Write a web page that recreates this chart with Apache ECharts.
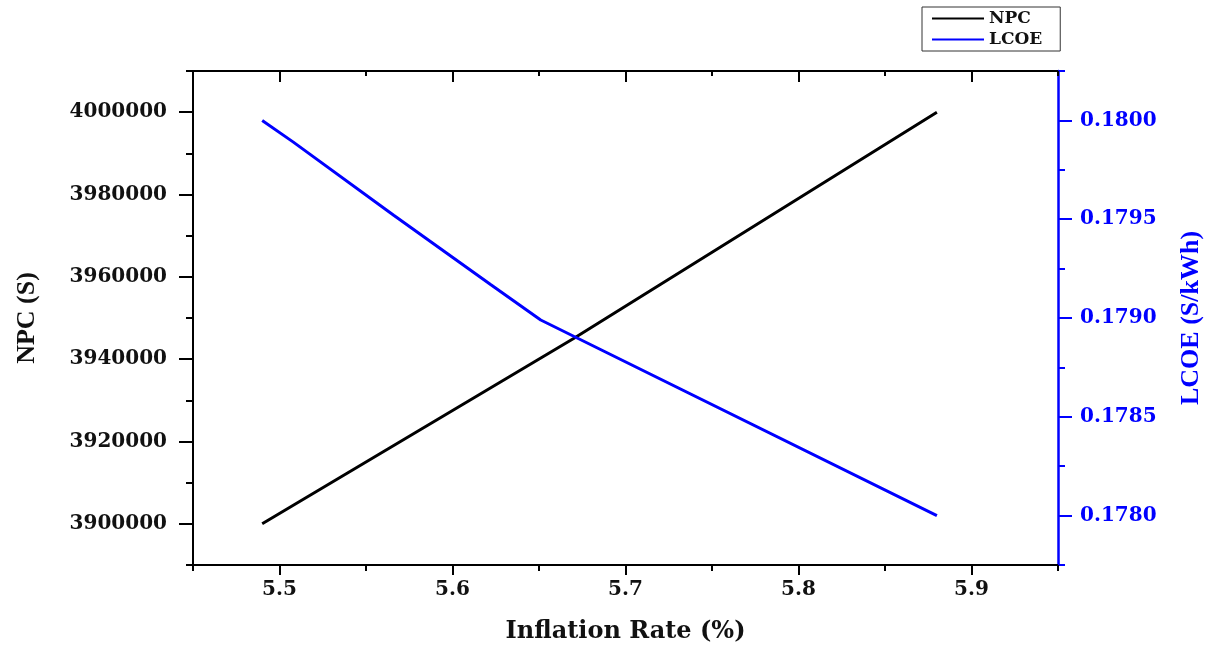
<!DOCTYPE html>
<html>
<head>
<meta charset="utf-8">
<title>NPC and LCOE vs Inflation Rate</title>
<script src="https://cdn.jsdelivr.net/npm/echarts@6/dist/echarts.min.js"></script>
<style>
html,body{margin:0;padding:0;background:#fff;}
#main{width:1218px;height:647px;}
</style>
</head>
<body>
<div id="main"></div>
<script>
// data
var npcX = [5.49, 5.67, 5.88];
var npcY = [3900000, 3945000, 4000000];
var lcoeX = [5.49, 5.508, 5.566, 5.622, 5.651, 5.88];
var lcoeY = [0.1800, 0.17989, 0.17952, 0.17917, 0.17899, 0.1780];

// tick values
var xMajor = [5.5, 5.6, 5.7, 5.8, 5.9];
var xMinor = [5.45, 5.55, 5.65, 5.75, 5.85, 5.95];
var npcMajor = [3900000, 3920000, 3940000, 3960000, 3980000, 4000000];
var npcMinor = [3890000, 3910000, 3930000, 3950000, 3970000, 3990000, 4010000];
var lcoeMajor = [0.1780, 0.1785, 0.1790, 0.1795, 0.1800];
var lcoeMinor = [0.17775, 0.17825, 0.17875, 0.17925, 0.17975, 0.18025];

var hFont = 'DejaVu Serif';
var vFont = 'Liberation Serif';
var blue = '#0000ff';

function pairs(xs, ys){
	var out = [];
	for (var i = 0; i < xs.length; i++) out.push([xs[i], ys[i]]);
	return out;
}

var xRange = {type:'value', min:5.45, max:5.95, splitLine:{show:false}};
function xAx(extra){ return Object.assign({}, xRange, extra); }

var npcRange = {type:'value', min:3890000, max:4010000, splitLine:{show:false}};
var lcoeRange = {type:'value', min:0.17775, max:0.18025, splitLine:{show:false}};

var myChart = echarts.init(document.getElementById('main'));
var option = {
	backgroundColor:'#fff',
	animation:false,
	grid:{left:193, right:160, top:71, bottom:82, containLabel:false, outerBoundsMode:'none'},
	legend:{
		left:922, top:7, orient:'vertical',
		padding:[3, 18, 3, 9],
		itemWidth:52, itemHeight:16, itemGap:4,
		borderColor:'#333', borderWidth:1,
		itemStyle:{opacity:0},
		textStyle:{fontFamily:hFont, fontWeight:'bold', fontSize:17, color:'#111'},
		data:['NPC', 'LCOE']
	},
	xAxis:[
		xAx({position:'bottom',
			name:'Inflation Rate (%)', nameLocation:'middle', nameGap:55,
			nameTextStyle:{fontFamily:hFont, fontWeight:'bold', fontSize:24, color:'#111'},
			axisLine:{lineStyle:{color:'#000', width:2}},
			axisTick:{customValues:xMajor, length:10, lineStyle:{color:'#000', width:2}},
			axisLabel:{customValues:xMajor, margin:15, fontFamily:hFont, fontWeight:'bold', fontSize:20, color:'#111',
				formatter:function(v){ return v.toFixed(1); }}
		}),
		xAx({position:'bottom', axisLine:{show:false},
			axisTick:{customValues:xMinor, length:6, lineStyle:{color:'#000', width:2}},
			axisLabel:{show:false}}),
		xAx({position:'top', axisLine:{lineStyle:{color:'#000', width:2}},
			axisTick:{customValues:xMajor, inside:true, length:11, lineStyle:{color:'#000', width:2}},
			axisLabel:{show:false}}),
		xAx({position:'top', axisLine:{show:false},
			axisTick:{customValues:xMinor, inside:true, length:5, lineStyle:{color:'#000', width:2}},
			axisLabel:{show:false}})
	],
	yAxis:[
		Object.assign({}, npcRange, {position:'left',
			name:'NPC (S)', nameLocation:'middle', nameGap:153, nameRotate:90,
			nameTextStyle:{fontFamily:vFont, fontWeight:'bold', fontSize:26, color:'#111'},
			axisLine:{lineStyle:{color:'#000', width:2}},
			axisTick:{customValues:npcMajor, length:14, lineStyle:{color:'#000', width:2}},
			axisLabel:{customValues:npcMajor, margin:26, fontFamily:hFont, fontWeight:'bold', fontSize:20, color:'#111',
				formatter:function(v){ return String(v); }}
		}),
		Object.assign({}, npcRange, {position:'left', axisLine:{show:false},
			axisTick:{customValues:npcMinor, length:7, lineStyle:{color:'#000', width:2}},
			axisLabel:{show:false}}),
		Object.assign({}, lcoeRange, {position:'right',
			name:'LCOE (S/kWh)', nameLocation:'middle', nameGap:120, nameRotate:90,
			nameTextStyle:{fontFamily:vFont, fontWeight:'bold', fontSize:26, color:blue},
			axisLine:{lineStyle:{color:blue, width:2.5}},
			axisTick:{customValues:lcoeMajor, length:14, lineStyle:{color:blue, width:2}},
			axisLabel:{customValues:lcoeMajor, margin:22, fontFamily:hFont, fontWeight:'bold', fontSize:20, color:blue,
				formatter:function(v){ return v.toFixed(4); }}
		}),
		Object.assign({}, lcoeRange, {position:'right', axisLine:{show:false},
			axisTick:{customValues:lcoeMinor, length:7, lineStyle:{color:blue, width:2}},
			axisLabel:{show:false}})
	],
	series:[
		{name:'NPC', type:'line', xAxisIndex:0, yAxisIndex:0, symbol:'none',
			lineStyle:{color:'#000', width:3}, itemStyle:{color:'#000'},
			data:pairs(npcX, npcY)},
		{name:'LCOE', type:'line', xAxisIndex:0, yAxisIndex:2, symbol:'none',
			lineStyle:{color:blue, width:3}, itemStyle:{color:blue},
			data:pairs(lcoeX, lcoeY)}
	]
};
myChart.setOption(option);
</script>
</body>
</html>
